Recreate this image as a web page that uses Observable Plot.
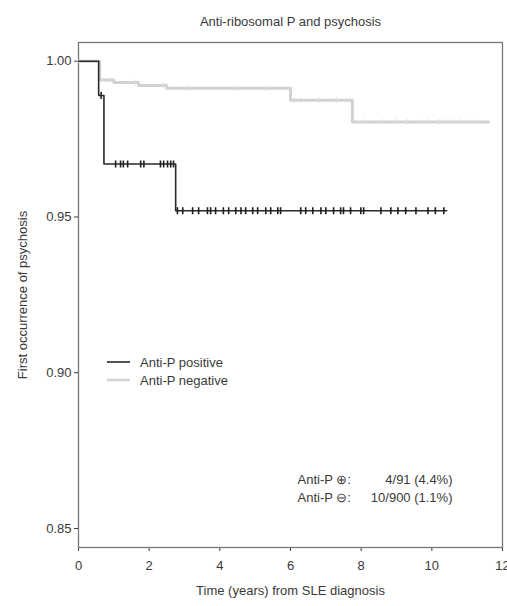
<!DOCTYPE html>
<html>
<head>
<meta charset="utf-8">
<script src="https://cdn.jsdelivr.net/npm/d3@7"></script>
<script src="https://cdn.jsdelivr.net/npm/@observablehq/plot@0.6"></script>
<style>
  html, body { margin: 0; padding: 0; background: #fff; }
  #chart svg { display: block; }
</style>
</head>
<body>
<div id="chart"></div>
<script>
// ---- Data ----
const titleText = "Anti-ribosomal P and psychosis";
const xLabel = "Time (years) from SLE diagnosis";
const yLabel = "First occurrence of psychosis";

const xTicks = [0, 2, 4, 6, 8, 10, 12];
const yTicks = [0.85, 0.90, 0.95, 1.00];

// Anti-P positive Kaplan-Meier steps
const posTimes = [0, 0.57, 0.72, 2.75, 10.42];
const posSurv  = [1.0, 0.989, 0.967, 0.952, 0.952];
// Anti-P positive censoring times
const posCensor = [0.64, 1.05, 1.19, 1.27, 1.39, 1.76, 1.85, 2.32, 2.41, 2.52, 2.61, 2.69,
  2.80, 2.95, 3.23, 3.40, 3.65, 3.74, 3.88, 4.10, 4.25, 4.45, 4.60, 4.73, 4.93, 5.07,
  5.30, 5.44, 5.64, 5.72, 6.29, 6.43, 6.63, 6.86, 7.00, 7.22, 7.42, 7.50, 7.70, 7.99,
  8.07, 8.56, 8.84, 9.04, 9.26, 9.55, 9.89, 10.10, 10.34];

// Anti-P negative Kaplan-Meier steps
const negTimes = [0, 0.60, 1.0, 1.7, 2.5, 6.0, 7.75, 11.6];
const negSurv  = [1.0, 0.9940, 0.9932, 0.9922, 0.9913, 0.9875, 0.9805, 0.9805];
// Anti-P negative censoring times
const negCensor = [0.9, 1.6, 2.4, 3.1, 4.4, 5.3, 6.1, 6.3, 6.8, 7.3, 8.1, 8.6, 9.0, 9.3,
  9.7, 9.9, 10.2, 10.4, 10.6, 10.8, 11.0, 11.3];

const legendLabels = ["Anti-P positive", "Anti-P negative"];
const legendColors = ["#2a2a2a", "#d2d2d2"];
const annotLabels = ["Anti-P \u2295:", "Anti-P \u2296:"];
const annotValues = ["4/91 (4.4%)", "10/900 (1.1%)"];

// ---- Build tables ----
const toSteps = (ts, ss) => ts.map((t, i) => ({t, s: ss[i]}));
const stepAt = (ts, ss, t) => ss[Math.max(0, d3.bisectRight(ts, t) - 1)];
const posLine = toSteps(posTimes, posSurv);
const negLine = toSteps(negTimes, negSurv);
const posMarks = posCensor.map(t => ({t, s: stepAt(posTimes, posSurv, t)}));
const negMarks = negCensor.map(t => ({t, s: stepAt(negTimes, negSurv, t)}));

const vbar = (h) => ({draw(ctx) { ctx.moveTo(0, -h); ctx.lineTo(0, h); }});

const font = "'Liberation Sans', Arial, sans-serif";
const textColor = "#3a3a3a";

const legendMark = (index, scales, values, dims) => {
  const g = d3.create("svg:g");
  const x0 = dims.marginLeft + 29, x1 = dims.marginLeft + 52;
  legendColors.forEach((c, i) => {
    const y = dims.marginTop + 320 + i * 18;
    g.append("line").attr("x1", x0).attr("x2", x1).attr("y1", y).attr("y2", y)
      .attr("stroke", c).attr("stroke-width", i === 0 ? 1.6 : 2.5);
    g.append("text").attr("x", dims.marginLeft + 62).attr("y", y).attr("dy", "0.35em")
      .attr("text-anchor", "start")
      .attr("fill", textColor).attr("font-size", 13).attr("font-family", font)
      .text(legendLabels[i]);
  });
  return g.node();
};

const chart = Plot.plot({
  width: 507,
  height: 606,
  marginLeft: 78,
  marginRight: 5,
  marginTop: 42,
  marginBottom: 59,
  style: {fontFamily: font, fontSize: "13px", color: textColor, background: "#fff"},
  x: {domain: [0, 12], ticks: xTicks, tickSize: 4, tickPadding: 9, label: null},
  y: {domain: [0.8439, 1.006], ticks: yTicks, tickFormat: d3.format(".2f"), tickSize: 4, tickPadding: 3, label: null},
  marks: [
    Plot.frame({stroke: "#777", strokeWidth: 1.3}),
    Plot.line(negLine, {x: "t", y: "s", curve: "step-after", stroke: "#d2d2d2", strokeWidth: 3}),
    Plot.dot(negMarks, {x: "t", y: "s", symbol: vbar(3), stroke: "#dedede", strokeWidth: 1, r: 4}),
    Plot.line(posLine, {x: "t", y: "s", curve: "step-after", stroke: "#2a2a2a", strokeWidth: 1.6}),
    Plot.dot(posMarks, {x: "t", y: "s", symbol: vbar(3.5), stroke: "#1e1e1e", strokeWidth: 1.6, r: 4}),
    Plot.text([titleText], {frameAnchor: "top", dy: -26, fontSize: 13, fill: textColor}),
    Plot.text([xLabel], {frameAnchor: "bottom", dy: 47, fontSize: 13, fill: textColor}),
    Plot.text([yLabel], {frameAnchor: "left", dx: -56, rotate: -90, textAnchor: "middle", fontSize: 13, fill: textColor}),
    Plot.text([annotLabels.join("\n")], {frameAnchor: "bottom-left", dx: 219, dy: -46, textAnchor: "start", lineHeight: 1.38, fontSize: 13, fill: textColor}),
    Plot.text([annotValues.join("\n")], {frameAnchor: "bottom-right", dx: -50, dy: -46, textAnchor: "end", lineHeight: 1.38, fontSize: 13, fill: textColor}),
    legendMark
  ]
});
document.getElementById("chart").appendChild(chart);
</script>
</body>
</html>
